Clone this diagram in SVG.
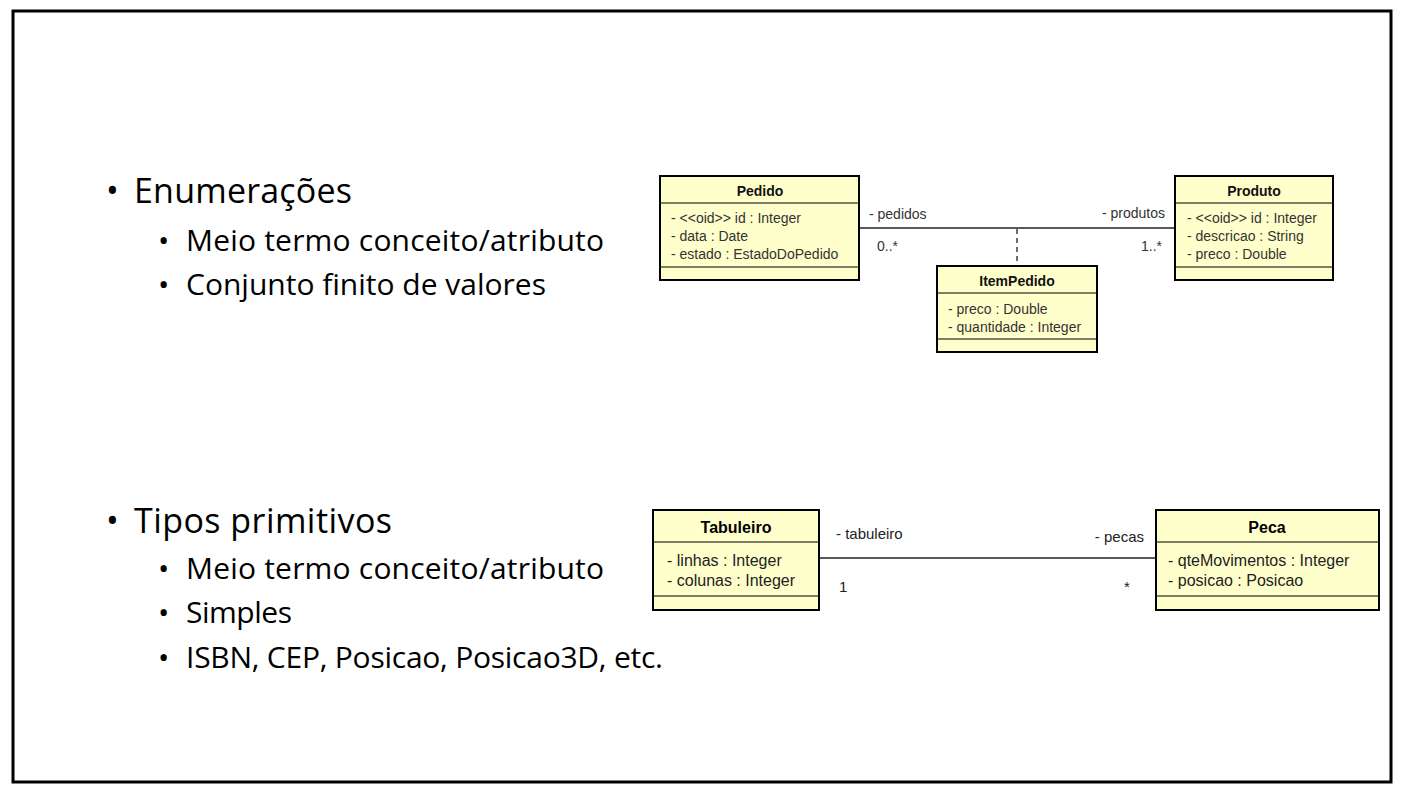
<svg xmlns="http://www.w3.org/2000/svg" width="1405" height="803" viewBox="0 0 1405 803">
<style>
.slide{fill:none;stroke:#000;stroke-width:3}
.b1{font-family:"Open Sans","Noto Sans",sans-serif;font-size:34px;fill:#000}
.b2{font-family:"Open Sans","Noto Sans",sans-serif;font-size:30px;fill:#000}
.box{fill:#FFFFCC;stroke:#000;stroke-width:2}
.div{stroke:#000;stroke-width:1.2}
.t1{font-family:"Liberation Sans",Arial,sans-serif;font-size:14px;font-weight:bold;fill:#111;text-anchor:middle}
.a1{font-family:"Liberation Sans",Arial,sans-serif;font-size:14px;fill:#333}
.t2{font-family:"Liberation Sans",Arial,sans-serif;font-size:16px;font-weight:bold;fill:#000;text-anchor:middle}
.a2{font-family:"Liberation Sans",Arial,sans-serif;font-size:16px;fill:#222}
.lbl1{font-family:"Liberation Sans",Arial,sans-serif;font-size:14px;fill:#333}
.lbl2{font-family:"Liberation Sans",Arial,sans-serif;font-size:15px;fill:#222}
.assoc{stroke:#222;stroke-width:1.3;fill:none}
</style>
<rect class="slide" x="13" y="11" width="1378" height="771" fill="#fff"/>
<g id="bullets">
<text class="b1" x="106" y="203">•</text>
<text class="b1" x="134" y="203" textLength="218">Enumerações</text>
<text class="b2" x="158" y="251">•</text>
<text class="b2" x="186" y="251" textLength="418">Meio termo conceito/atributo</text>
<text class="b2" x="158" y="295">•</text>
<text class="b2" x="186" y="295" textLength="360">Conjunto finito de valores</text>
<text class="b1" x="106" y="533">•</text>
<text class="b1" x="134" y="533" textLength="258">Tipos primitivos</text>
<text class="b2" x="158" y="579">•</text>
<text class="b2" x="186" y="579" textLength="418">Meio termo conceito/atributo</text>
<text class="b2" x="158" y="623">•</text>
<text class="b2" x="186" y="623" textLength="106">Simples</text>
<text class="b2" x="158" y="668">•</text>
<text class="b2" x="186" y="668" textLength="477">ISBN, CEP, Posicao, Posicao3D, etc.</text>
</g>
<g id="connectors">
<line class="assoc" x1="860" y1="228" x2="1175" y2="228"/>
<line class="assoc" x1="1017" y1="229" x2="1017" y2="265" stroke-dasharray="5,4"/>
<text class="lbl1" x="869" y="219">- pedidos</text>
<text class="lbl1" x="1165" y="218" text-anchor="end">- produtos</text>
<text class="lbl1" x="877" y="251">0..*</text>
<text class="lbl1" x="1162" y="251" text-anchor="end">1..*</text>
<line class="assoc" x1="820" y1="558" x2="1156" y2="558"/>
<text class="lbl2" x="836" y="539">- tabuleiro</text>
<text class="lbl2" x="1144" y="542" text-anchor="end">- pecas</text>
<text class="lbl2" x="839" y="592">1</text>
<text class="lbl2" x="1124" y="592">*</text>
</g>
<g id="Pedido">
<rect class="box" x="660" y="176" width="199" height="104"/>
<line class="div" x1="660" y1="203" x2="859" y2="203"/>
<line class="div" x1="660" y1="267" x2="859" y2="267"/>
<text class="t1" x="760" y="196">Pedido</text>
<text class="a1" x="671" y="223">- &lt;&lt;oid&gt;&gt; id : Integer</text>
<text class="a1" x="671" y="241">- data : Date</text>
<text class="a1" x="671" y="259">- estado : EstadoDoPedido</text>
</g>
<g id="Produto">
<rect class="box" x="1175" y="176" width="158" height="104"/>
<line class="div" x1="1175" y1="203" x2="1333" y2="203"/>
<line class="div" x1="1175" y1="267" x2="1333" y2="267"/>
<text class="t1" x="1254" y="196">Produto</text>
<text class="a1" x="1187" y="223">- &lt;&lt;oid&gt;&gt; id : Integer</text>
<text class="a1" x="1187" y="241">- descricao : String</text>
<text class="a1" x="1187" y="259">- preco : Double</text>
</g>
<g id="ItemPedido">
<rect class="box" x="937" y="266" width="160" height="86"/>
<line class="div" x1="937" y1="293" x2="1097" y2="293"/>
<line class="div" x1="937" y1="339" x2="1097" y2="339"/>
<text class="t1" x="1017" y="286">ItemPedido</text>
<text class="a1" x="948" y="314">- preco : Double</text>
<text class="a1" x="948" y="332">- quantidade : Integer</text>
</g>
<g id="Tabuleiro">
<rect class="box" x="653" y="510" width="166" height="100"/>
<line class="div" x1="653" y1="542" x2="819" y2="542"/>
<line class="div" x1="653" y1="596" x2="819" y2="596"/>
<text class="t2" x="736" y="533">Tabuleiro</text>
<text class="a2" x="667" y="566">- linhas : Integer</text>
<text class="a2" x="667" y="586">- colunas : Integer</text>
</g>
<g id="Peca">
<rect class="box" x="1156" y="510" width="223" height="100"/>
<line class="div" x1="1156" y1="542" x2="1379" y2="542"/>
<line class="div" x1="1156" y1="596" x2="1379" y2="596"/>
<text class="t2" x="1267" y="533">Peca</text>
<text class="a2" x="1168" y="566">- qteMovimentos : Integer</text>
<text class="a2" x="1168" y="586">- posicao : Posicao</text>
</g>
</svg>
